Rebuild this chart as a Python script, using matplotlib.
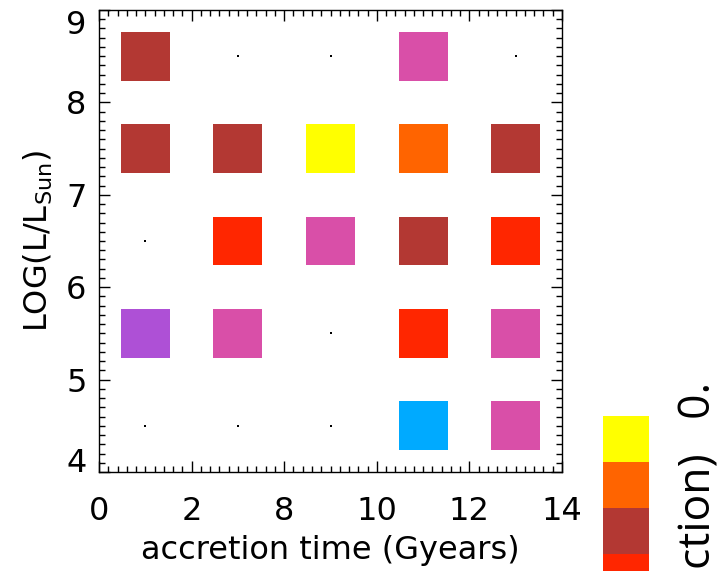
import numpy as np
import matplotlib.pyplot as plt
from matplotlib.colors import ListedColormap, BoundaryNorm
from matplotlib.cm import ScalarMappable
from matplotlib.patches import Rectangle
from matplotlib.ticker import MultipleLocator

plt.rcParams['font.family'] = ['DejaVu Sans']
plt.rcParams['mathtext.default'] = 'regular'

# accretion time bins (label only), luminosity bins
time_labels = ['0', '2', '8', '10', '12', '14']
time_bins = [0.5, 1.5, 2.5, 3.5, 4.5]
lum_bins = [4.5, 5.5, 6.5, 7.5, 8.5]

# colour class per cell, rows follow lum_bins, columns follow time_bins; -1 = no data
cell_class = [
    [-1, -1, -1, 0, 2],
    [1, 2, -1, 3, 2],
    [-1, 3, 2, 4, 3],
    [4, 4, 6, 5, 4],
    [4, -1, -1, 2, -1],
]
class_colors = ['#00AAFF', '#AE50D6', '#D94FA8', '#FF2600',
                '#B33833', '#FF6400', '#FFFF00']

cmap = ListedColormap(class_colors)
norm = BoundaryNorm(np.arange(-0.5, len(class_colors) + 0.5), cmap.N)
box = 0.53

fig = plt.figure(figsize=(7.17, 5.71), dpi=100)
ax = fig.add_axes([99 / 717, 99 / 571, 463 / 717, 462 / 571])

xx, yy = np.meshgrid(time_bins, lum_bins)
ax.scatter(xx.ravel(), yy.ravel(), s=0.6, color='k', marker='s', lw=0, zorder=1)

for j, y in enumerate(lum_bins):
    for i, x in enumerate(time_bins):
        k = cell_class[j][i]
        if k < 0:
            continue
        ax.add_patch(Rectangle((x - box / 2, y - box / 2), box, box,
                               facecolor=cmap(norm(k)), edgecolor='none', zorder=2))

ax.set_xlim(0, 5)
ax.set_ylim(4, 9)
ax.set_xticks(range(len(time_labels)))
ax.set_xticklabels(time_labels)
ax.set_yticks([4, 5, 6, 7, 8, 9])
ax.xaxis.set_minor_locator(MultipleLocator(0.1))
ax.yaxis.set_minor_locator(MultipleLocator(0.1))
ax.tick_params(which='both', direction='in', top=True, right=True, width=1, labelsize=23)
ax.tick_params(which='major', length=8)
ax.tick_params(which='minor', length=4.5)
ax.tick_params(axis='x', pad=17.5)
ax.tick_params(axis='y', pad=9)
for s in ax.spines.values():
    s.set_linewidth(1)

# keep the end labels inside the frame
ylabels = ax.get_yticklabels()
ylabels[0].set_verticalalignment('baseline')
ylabels[-1].set_verticalalignment('top')

ax.set_xlabel('accretion time (Gyears)', fontsize=23, labelpad=5.5)
ax.set_ylabel('LOG(L/L$_{Sun}$)', fontsize=23, labelpad=8)

# colour bar, runs past the bottom of the figure
cax = fig.add_axes([603 / 717, 1 - 738 / 571, 46 / 717, 322 / 571])
cb = fig.colorbar(ScalarMappable(norm=norm, cmap=cmap), cax=cax)
cb.outline.set_visible(False)
cb.minorticks_off()
cax.set_yticks([])
cax.tick_params(which='both', length=0)
fig.text(711 / 717, 1 - 382 / 571, '(fraction)   0.', rotation=90,
         rotation_mode='anchor', ha='right', va='baseline', fontsize=32,
         family=['Open Sans', 'DejaVu Sans'])

fig.savefig('out.png', dpi=100)
